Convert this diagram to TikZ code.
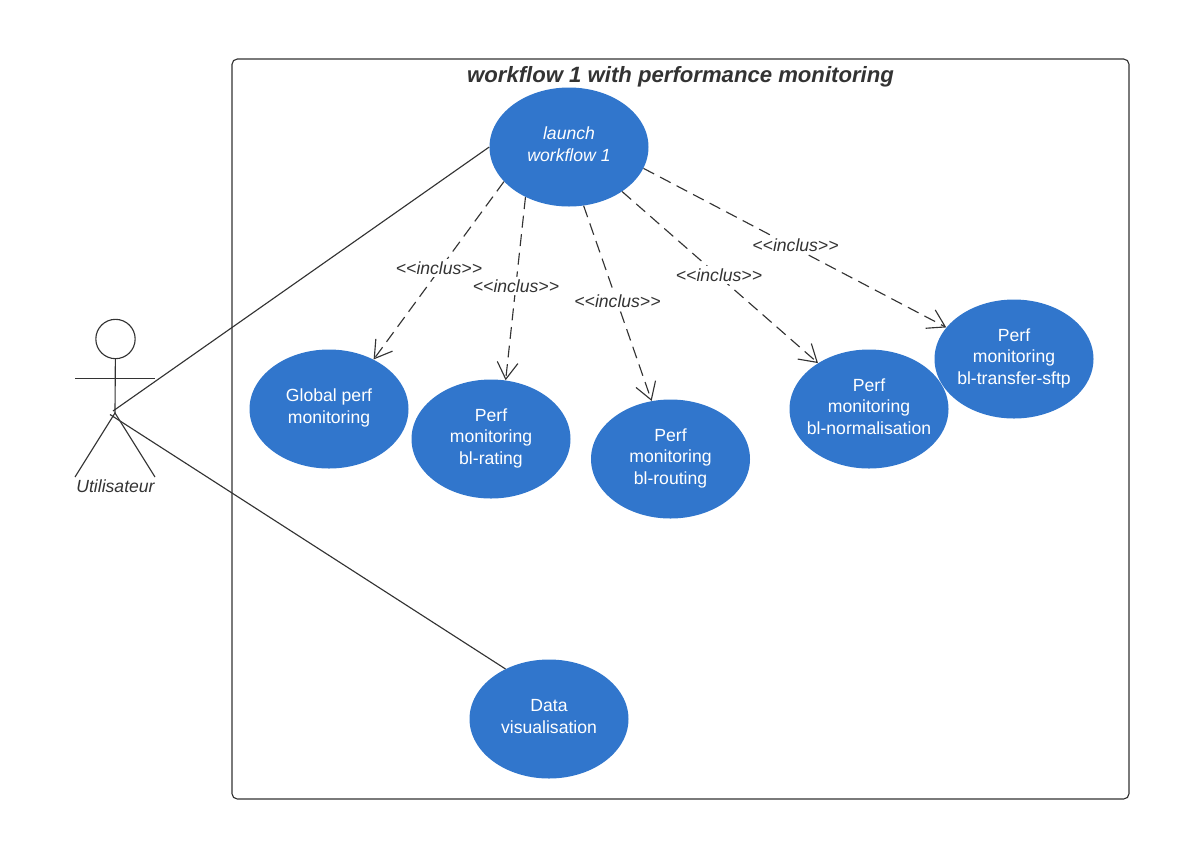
\documentclass[tikz,border=0pt]{standalone}
\usepackage{fontspec}
\setmainfont{Liberation Sans}
\usetikzlibrary{arrows.meta,shapes.geometric}
\definecolor{usecaseblue}{RGB}{49,118,204}
\definecolor{linegrey}{RGB}{51,51,51}
\begin{document}
\begin{tikzpicture}[x=0.75pt,y=-0.75pt]
\tikzstyle{every node}+=[inner sep=0pt]
\tikzstyle{usecase}=[ellipse,fill=usecaseblue,text=white,inner xsep=-8pt,minimum width=119.25pt,minimum height=89.25pt,align=center,font=\fontsize{13.2}{16.1}\selectfont,execute at end node={\rule[-4pt]{0pt}{0pt}}]
\tikzstyle{inclus}=[fill=white,inner xsep=1pt,inner ysep=2pt,text=linegrey,font=\fontsize{13.2}{15.9}\selectfont\itshape]
\tikzstyle{include}=[draw=linegrey,line width=0.85pt,dashed,dash pattern=on 9pt off 5pt,-{Straight Barb[length=12.6pt,width=15.5pt]}]
\tikzstyle{assoc}=[draw=linegrey,line width=0.85pt]
\useasboundingbox (0,0) rectangle (1189,858);
\draw [assoc,rounded corners=4pt] (232,59) rectangle (1129,799);
\node [text=linegrey,font=\fontsize{16.6}{20}\selectfont\bfseries\itshape] (title) at (680.5,76.5) {workflow 1 with performance monitoring};
\node [draw=linegrey,line width=0.85pt,circle,minimum size=29.5pt] (head) at (115.5,339) {};
\coordinate (hip) at (115,413);
\coordinate (armleft) at (75,378.5);
\coordinate (armright) at (155,378.5);
\coordinate (legleft) at (75,477);
\coordinate (legright) at (155,477);
\coordinate (actorup) at (113,411);
\coordinate (actordown) at (110,414.5);
\draw [assoc] (head) -- (hip);
\draw [assoc] (armleft) -- (armright);
\draw [assoc] (legleft) -- (hip) -- (legright);
\node [text=linegrey,font=\fontsize{13.2}{15.9}\selectfont\itshape] (actor) at (115.5,486) {Utilisateur};
\node [usecase,font=\fontsize{13.2}{16.1}\selectfont\itshape] (launch) at (569,147) {launch\\workflow 1};
\node [usecase] (global) at (329,409) {Global perf\\monitoring};
\node [usecase] (rating) at (491,439) {Perf\\monitoring\\bl-rating};
\node [usecase] (routing) at (670.5,459) {Perf\\monitoring\\bl-routing};
\node [usecase] (normal) at (869,409) {Perf\\monitoring\\bl-normalisation};
\node [usecase] (sftp) at (1014,359) {Perf\\monitoring\\bl-transfer-sftp};
\node [usecase] (data) at (549,719) {Data\\visualisation};
\draw [assoc] (launch.west) -- (actorup);
\draw [assoc] (actordown) -- (data.131);
\draw [include] (launch.208) -- (global.48);
\draw [include] (launch.229) -- (rating.76);
\draw [include] (launch.284) -- (routing.108);
\draw [include] (launch.320) -- (normal.138);
\draw [include] (launch.344) -- (sftp.155);
\node [inclus] (inclusa) at (439,268) {<{}<inclus>{}>};
\node [inclus] (inclusb) at (516,286) {<{}<inclus>{}>};
\node [inclus] (inclusc) at (617.5,301) {<{}<inclus>{}>};
\node [inclus] (inclusd) at (719,275) {<{}<inclus>{}>};
\node [inclus] (inclusf) at (795.5,245) {<{}<inclus>{}>};
\end{tikzpicture}
\end{document}
